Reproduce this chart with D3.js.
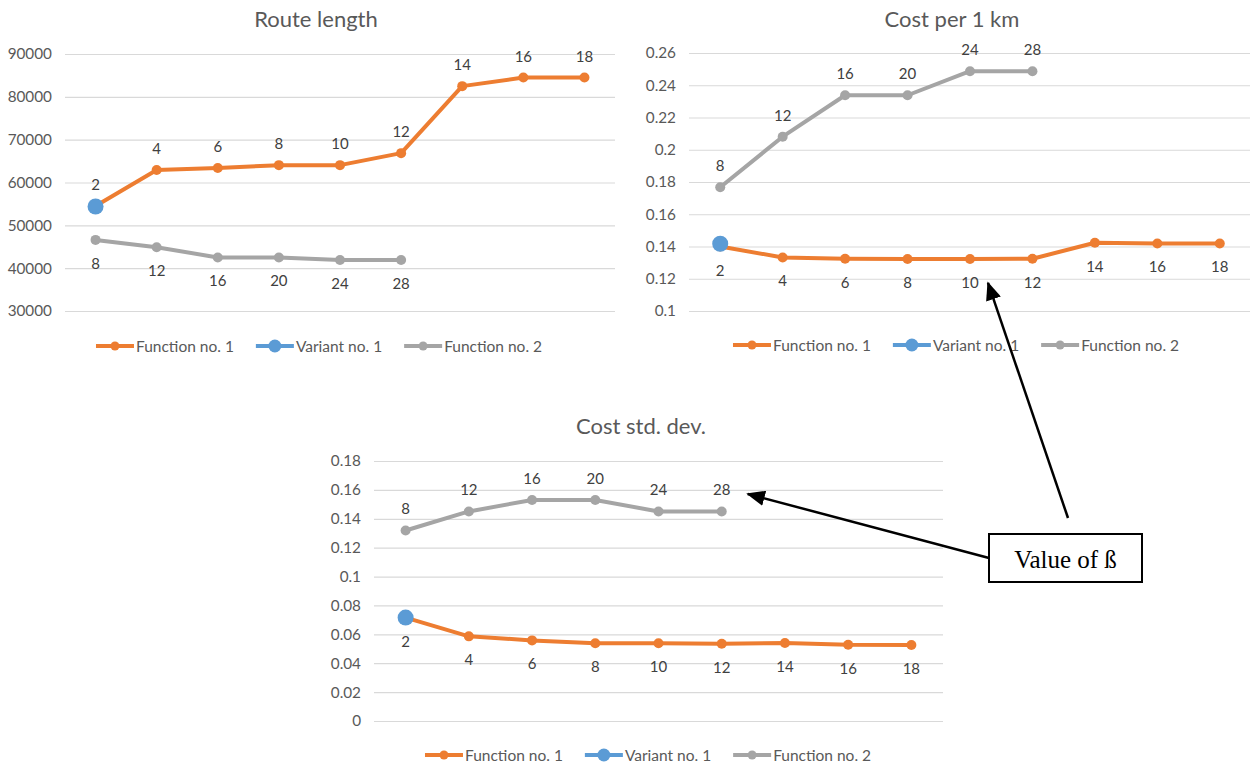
<!DOCTYPE html>
<html>
<head>
<meta charset="utf-8">
<script src="https://cdn.jsdelivr.net/npm/d3@7"></script>
<style>
  html, body { margin: 0; padding: 0; background: #ffffff; }
  svg { display: block; }
</style>
</head>
<body>
<svg id="chart" width="1250" height="765"></svg>
<script>
// ---------- DATA ----------
const categories = [1, 2, 3, 4, 5, 6, 7, 8, 9];
const f1Beta = [2, 4, 6, 8, 10, 12, 14, 16, 18];
const f2Beta = [8, 12, 16, 20, 24, 28];
const seriesNames = ["Function no. 1", "Variant no. 1", "Function no. 2"];

const routeF1 = [54500, 62900, 63400, 64050, 64050, 66850, 82500, 84500, 84500];
const routeVariant = [54400];
const routeF2 = [46600, 44900, 42500, 42500, 41900, 41900];
const routeTicks = [30000, 40000, 50000, 60000, 70000, 80000, 90000];

const costKmF1 = [0.1400, 0.1332, 0.1324, 0.1322, 0.1322, 0.1324, 0.1423, 0.1419, 0.1419];
const costKmVariant = [0.1417];
const costKmF2 = [0.1767, 0.2081, 0.2338, 0.2338, 0.2487, 0.2487];
const costKmTicks = [0.1, 0.12, 0.14, 0.16, 0.18, 0.2, 0.22, 0.24, 0.26];

const costStdF1 = [0.0716, 0.0586, 0.0558, 0.0538, 0.0538, 0.0535, 0.0540, 0.0528, 0.0526];
const costStdVariant = [0.0716];
const costStdF2 = [0.1319, 0.1451, 0.1530, 0.1530, 0.1451, 0.1451];
const costStdTicks = [0, 0.02, 0.04, 0.06, 0.08, 0.1, 0.12, 0.14, 0.16, 0.18];

const annotationText = "Value of ß";

// ---------- STYLE ----------
const COL = { f1: "#ED7D31", v: "#5B9BD5", f2: "#A5A5A5", grid: "#D9D9D9", text: "#595959", label: "#404040" };
const FONT = "Lato, 'Open Sans', sans-serif";

const svg = d3.select("#chart");

function drawChart(cfg) {
  const g = svg.append("g");
  const x = d3.scalePoint().domain(categories).range([cfg.left, cfg.right]).padding(0.5);
  const y = d3.scaleLinear().domain([cfg.ticks[0], cfg.ticks[cfg.ticks.length - 1]]).range([cfg.bottom, cfg.top]);

  // gridlines + y tick labels via axis
  const axis = d3.axisLeft(y).tickValues(cfg.ticks).tickSize(-(cfg.right - cfg.left)).tickPadding(13)
    .tickFormat(d => String(+d.toFixed(4)));
  const ag = g.append("g").attr("transform", `translate(${cfg.left},0)`).call(axis);
  ag.select(".domain").remove();
  ag.selectAll(".tick line").attr("stroke", COL.grid).attr("stroke-width", 1.2);
  ag.selectAll(".tick text").attr("fill", COL.text).attr("font-family", FONT).attr("font-size", 15.3);

  // title
  g.append("text").attr("x", cfg.titleX).attr("y", cfg.titleY).attr("text-anchor", "middle")
    .attr("dominant-baseline", "central").attr("fill", COL.text).attr("font-family", FONT)
    .attr("font-size", 22).text(cfg.title);

  const line = d3.line().x((d, i) => x(categories[i])).y(d => y(d));

  function series(vals, color, r, labels, above) {
    g.append("path").datum(vals).attr("d", line).attr("fill", "none").attr("stroke", color)
      .attr("stroke-width", 4).attr("stroke-linejoin", "round").attr("stroke-linecap", "round");
    g.selectAll(null).data(vals).enter().append("circle")
      .attr("cx", (d, i) => x(categories[i])).attr("cy", d => y(d)).attr("r", r).attr("fill", color);
    if (labels) {
      g.selectAll(null).data(vals).enter().append("text")
        .attr("x", (d, i) => x(categories[i])).attr("y", d => y(d) + (above ? -22 : 23))
        .attr("text-anchor", "middle").attr("dominant-baseline", "central")
        .attr("fill", COL.label).attr("font-family", FONT).attr("font-size", 15)
        .text((d, i) => labels[i]);
    }
  }
  series(cfg.f1, COL.f1, 5, f1Beta, cfg.f1Above);
  series(cfg.f2, COL.f2, 5, f2Beta, !cfg.f1Above);
  series(cfg.variant, COL.v, 8, null, true);

  // legend
  const lg = g.append("g");
  const items = [{ c: COL.f1, r: 4.5 }, { c: COL.v, r: 6.5 }, { c: COL.f2, r: 4.5 }];
  let cx = 0;
  items.forEach((it, i) => {
    const ig = lg.append("g").attr("transform", `translate(${cx},0)`);
    ig.append("line").attr("x1", 0).attr("x2", 38).attr("y1", 0).attr("y2", 0)
      .attr("stroke", it.c).attr("stroke-width", 4);
    ig.append("circle").attr("cx", 19).attr("cy", 0).attr("r", it.r).attr("fill", it.c);
    const t = ig.append("text").attr("x", 40).attr("y", 0).attr("dominant-baseline", "central")
      .attr("fill", COL.text).attr("font-family", FONT).attr("font-size", 15.5).text(seriesNames[i]);
    cx += 40 + t.node().getComputedTextLength() + 22;
  });
  const total = cx - 22;
  lg.attr("transform", `translate(${cfg.legendCX - total / 2},${cfg.legendY})`);
  return { x, y };
}

const c1 = drawChart({ title: "Route length", left: 65, right: 615, top: 54, bottom: 311, ticks: routeTicks,
  f1: routeF1, f2: routeF2, variant: routeVariant, f1Above: true, titleX: 316, titleY: 18, legendCX: 319, legendY: 346 });
const c2 = drawChart({ title: "Cost per 1 km", left: 689, right: 1251, top: 53, bottom: 311, ticks: costKmTicks,
  f1: costKmF1, f2: costKmF2, variant: costKmVariant, f1Above: false, titleX: 952, titleY: 18, legendCX: 956, legendY: 345 });
const c3 = drawChart({ title: "Cost std. dev.", left: 374, right: 943, top: 461, bottom: 721, ticks: costStdTicks,
  f1: costStdF1, f2: costStdF2, variant: costStdVariant, f1Above: false, titleX: 641, titleY: 425, legendCX: 648, legendY: 755 });

// ---------- ANNOTATION ----------
svg.append("defs").append("marker").attr("id", "arrow").attr("viewBox", "0 0 12 10")
  .attr("refX", 11).attr("refY", 5).attr("markerWidth", 7.5).attr("markerHeight", 6.2)
  .attr("markerUnits", "strokeWidth").attr("orient", "auto")
  .append("path").attr("d", "M0,0 L12,5 L0,10 z").attr("fill", "#000");

const box = { x: 989, y: 534, w: 153, h: 48 };
// arrow 1 : from box top to Cost per 1 km chart (between beta 10 and 12 labels)
const tip1 = { x: c2.x(5) + 18, y: c2.y(0.1174) };
const tip2 = { x: c3.x(6) + 26, y: c3.y(0.1572) };
svg.append("line").attr("x1", 1068).attr("y1", 518).attr("x2", tip1.x).attr("y2", tip1.y)
  .attr("stroke", "#000").attr("stroke-width", 2.5).attr("marker-end", "url(#arrow)");
svg.append("line").attr("x1", box.x).attr("y1", 558).attr("x2", tip2.x).attr("y2", tip2.y)
  .attr("stroke", "#000").attr("stroke-width", 2.5).attr("marker-end", "url(#arrow)");
svg.append("rect").attr("x", box.x).attr("y", box.y).attr("width", box.w).attr("height", box.h)
  .attr("fill", "#fff").attr("stroke", "#000").attr("stroke-width", 2);
svg.append("text").attr("x", box.x + box.w / 2).attr("y", box.y + box.h / 2 + 1)
  .attr("text-anchor", "middle").attr("dominant-baseline", "central")
  .attr("font-family", "'Liberation Serif', 'Times New Roman', serif").attr("font-size", 25)
  .attr("fill", "#000").text(annotationText);
</script>
</body>
</html>
